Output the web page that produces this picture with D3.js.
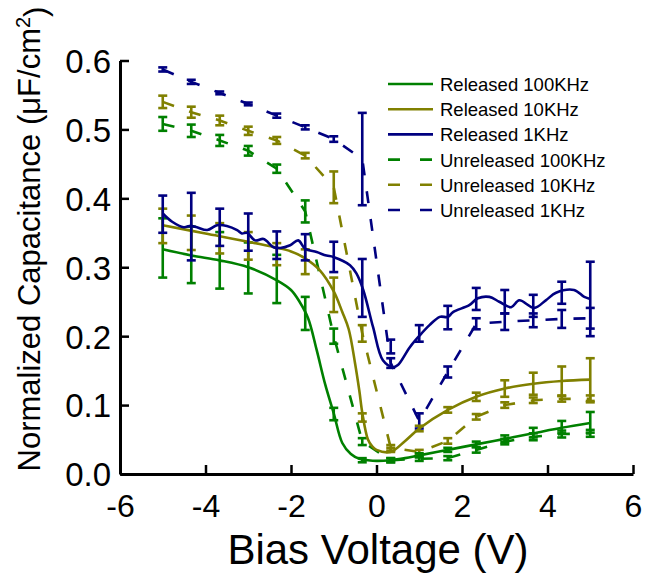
<!DOCTYPE html>
<html>
<head>
<meta charset="utf-8">
<script src="https://cdn.jsdelivr.net/npm/d3@7"></script>
<style>
  body { margin: 0; background: #fff; }
  svg text { font-family: "Liberation Sans", Arial, sans-serif; fill: #000; }
</style>
</head>
<body>
<svg id="chart" width="646" height="573"></svg>
<script>
// error bar positions (V)
var biasPts = [-5, -4.333, -3.667, -3, -2.333, -1.667, -1, -0.333, 0.333, 1, 1.667, 2.333, 3, 3.667, 4.333, 5];

// released: measured means + errors
var rel100Mean = [0.328, 0.318, 0.310, 0.299, 0.283, 0.233, 0.087, 0.020, 0.020, 0.027, 0.035, 0.043, 0.051, 0.060, 0.068, 0.075];
var rel100Err  = [0.043, 0.041, 0.041, 0.037, 0.035, 0.024, 0.009, 0.003, 0.003, 0.003, 0.003, 0.004, 0.005, 0.007, 0.009, 0.015];
var rel10Mean  = [0.360, 0.350, 0.342, 0.331, 0.319, 0.308, 0.260, 0.082, 0.035, 0.066, 0.093, 0.112, 0.124, 0.131, 0.135, 0.137];
var rel10Err   = [0.025, 0.025, 0.022, 0.020, 0.016, 0.018, 0.025, 0.006, 0.003, 0.004, 0.004, 0.006, 0.012, 0.016, 0.021, 0.031];
var rel1Mean   = [0.377, 0.359, 0.358, 0.351, 0.332, 0.329, 0.315, 0.270, 0.185, 0.204, 0.227, 0.254, 0.250, 0.244, 0.263, 0.254];
var rel1Err    = [0.027, 0.049, 0.027, 0.027, 0.020, 0.019, 0.022, 0.042, 0.010, 0.012, 0.017, 0.016, 0.017, 0.016, 0.016, 0.054];

// unreleased: measured means + errors
var unr100Mean = [0.508, 0.498, 0.484, 0.469, 0.443, 0.381, 0.200, 0.047, 0.020, 0.022, 0.023, 0.035, 0.047, 0.054, 0.058, 0.059];
var unr100Err  = [0.010, 0.009, 0.008, 0.007, 0.006, 0.016, 0.011, 0.005, 0.003, 0.003, 0.003, 0.004, 0.004, 0.005, 0.005, 0.005];
var unr10Mean  = [0.540, 0.525, 0.513, 0.498, 0.484, 0.462, 0.416, 0.204, 0.038, 0.032, 0.048, 0.083, 0.100, 0.107, 0.109, 0.109];
var unr10Err   = [0.009, 0.008, 0.007, 0.006, 0.005, 0.004, 0.023, 0.012, 0.004, 0.003, 0.004, 0.004, 0.004, 0.004, 0.004, 0.005];
var unr1Mean   = [0.587, 0.569, 0.553, 0.537, 0.520, 0.503, 0.486, 0.457, 0.161, 0.077, 0.148, 0.218, 0.221, 0.223, 0.225, 0.226];
var unr1Err    = [0.003, 0.003, 0.002, 0.002, 0.003, 0.003, 0.004, 0.067, 0.007, 0.011, 0.008, 0.008, 0.012, 0.010, 0.013, 0.015];

// released fit curves
var rel100CurveV = [-5, -4.33, -3.67, -3, -2.33, -2, -1.8, -1.6, -1.4, -1.2, -1.0, -0.8, -0.6, -0.4, -0.2, 0, 0.33, 0.67, 1, 1.67, 2.33, 3, 3.67, 4.33, 5];
var rel100CurveC = [0.326, 0.317, 0.310, 0.300, 0.281, 0.267, 0.250, 0.226, 0.180, 0.130, 0.088, 0.045, 0.029, 0.022, 0.020, 0.019, 0.020, 0.023, 0.027, 0.035, 0.043, 0.051, 0.059, 0.067, 0.074];
var rel10CurveV  = [-5, -4, -3, -2, -1.67, -1.33, -1.0, -0.8, -0.65, -0.5, -0.4, -0.33, -0.2, -0.1, 0, 0.33, 0.67, 1, 1.67, 2.33, 3, 3.67, 4.33, 5];
var rel10CurveC  = [0.361, 0.349, 0.337, 0.323, 0.313, 0.296, 0.265, 0.235, 0.210, 0.160, 0.120, 0.088, 0.050, 0.040, 0.035, 0.032, 0.048, 0.066, 0.093, 0.112, 0.124, 0.131, 0.135, 0.137];
var rel1CurveV   = [-5, -4.78, -4.51, -4.35, -4.2, -3.96, -3.73, -3.5, -3.26, -3.15, -3.03, -2.84, -2.64, -2.41, -2.25, -2.02, -1.83, -1.67, -1.4, -1.17, -1.01, -0.62, -0.47, -0.31, -0.08, 0.15, 0.39, 0.5, 0.78, 1.01, 1.24, 1.48, 1.67, 1.79, 2.17, 2.37, 2.64, 2.87, 3.15, 3.34, 3.69, 3.96, 4.2, 4.62, 4.86, 5];
var rel1CurveC   = [0.378, 0.366, 0.358, 0.360, 0.358, 0.354, 0.361, 0.360, 0.354, 0.349, 0.350, 0.339, 0.341, 0.329, 0.328, 0.332, 0.339, 0.327, 0.322, 0.317, 0.315, 0.303, 0.291, 0.267, 0.213, 0.165, 0.155, 0.158, 0.184, 0.201, 0.216, 0.228, 0.228, 0.235, 0.245, 0.255, 0.257, 0.250, 0.242, 0.252, 0.241, 0.252, 0.263, 0.267, 0.257, 0.254];

var legendNames = ["Released 100KHz", "Released 10KHz", "Released 1KHz", "Unreleased 100KHz", "Unreleased 10KHz", "Unreleased 1KHz"];

var GREEN = "#008000", OLIVE = "#808000", NAVY = "#000080";
var DASH = "12,16";

var svg = d3.select("#chart");
var x = d3.scaleLinear().domain([-6, 6]).range([120, 633]);
var y = d3.scaleLinear().domain([0, 0.6]).range([474, 60.5]);

var plotG = svg.append("g");

function zipPts(vs, cs) { return vs.map(function(v, i) { return [v, cs[i]]; }); }

function drawErrBars(means, errs, color) {
  var g = plotG.append("g").attr("stroke", color).attr("stroke-width", 2.6).attr("fill", "none");
  biasPts.forEach(function(v, i) {
    var cx = x(v), top = y(means[i] + errs[i]), bot = y(means[i] - errs[i]);
    g.append("line").attr("x1", cx).attr("x2", cx).attr("y1", top).attr("y2", bot);
    g.append("line").attr("x1", cx - 4.5).attr("x2", cx + 4.5).attr("y1", top).attr("y2", top);
    g.append("line").attr("x1", cx - 4.5).attr("x2", cx + 4.5).attr("y1", bot).attr("y2", bot);
  });
}

var lineGen = d3.line().x(function(d) { return x(d[0]); }).y(function(d) { return y(d[1]); });
var smoothGen = d3.line().x(function(d) { return x(d[0]); }).y(function(d) { return y(d[1]); }).curve(d3.curveCatmullRom.alpha(0.5));

// unreleased: dashed polylines through the means
[[unr100Mean, unr100Err, GREEN], [unr10Mean, unr10Err, OLIVE], [unr1Mean, unr1Err, NAVY]].forEach(function(s) {
  drawErrBars(s[0], s[1], s[2]);
  plotG.append("path")
    .attr("d", lineGen(zipPts(biasPts, s[0])))
    .attr("fill", "none").attr("stroke", s[2]).attr("stroke-width", 2.6)
    .attr("stroke-dasharray", DASH);
});

// released: smooth curves + bars
[[rel100Mean, rel100Err, rel100CurveV, rel100CurveC, GREEN],
 [rel10Mean, rel10Err, rel10CurveV, rel10CurveC, OLIVE],
 [rel1Mean, rel1Err, rel1CurveV, rel1CurveC, NAVY]].forEach(function(s) {
  drawErrBars(s[0], s[1], s[4]);
  plotG.append("path")
    .attr("d", smoothGen(zipPts(s[2], s[3])))
    .attr("fill", "none").attr("stroke", s[4]).attr("stroke-width", 2.6);
});

// axes
var xAxisG = svg.append("g").attr("transform", "translate(0,474)");
xAxisG.call(d3.axisBottom(x).tickValues([-5, -3, -1, 1, 3, 5]).tickSize(-5).tickSizeOuter(0).tickFormat(""));
xAxisG.call(d3.axisBottom(x).tickValues([-6, -4, -2, 0, 2, 4, 6]).tickSize(-9).tickSizeOuter(0).tickPadding(0).tickFormat(d3.format("d")));
xAxisG.selectAll("path.domain").attr("stroke-width", 3);
xAxisG.selectAll(".tick line").attr("stroke-width", 2.5);
xAxisG.selectAll(".tick text")
  .attr("y", 43).attr("dy", null)
  .style("font-size", "32px")
  .text(function(d) { return d < 0 ? "-" + Math.abs(d) : d; });

var yAxisG = svg.append("g").attr("transform", "translate(120,0)");
yAxisG.call(d3.axisLeft(y).tickValues(d3.range(0.05, 0.6, 0.1)).tickSize(-5).tickSizeOuter(0).tickFormat(""));
yAxisG.call(d3.axisLeft(y).tickValues([0, 0.1, 0.2, 0.3, 0.4, 0.5, 0.6]).tickSize(-9).tickSizeOuter(0).tickPadding(9).tickFormat(d3.format(".1f")));
yAxisG.selectAll("path.domain").attr("stroke-width", 3);
yAxisG.selectAll(".tick line").attr("stroke-width", 2.5);
yAxisG.selectAll(".tick text").style("font-size", "33px").attr("dy", "0.36em");

// axis titles
svg.append("text")
  .attr("x", 378).attr("y", 564)
  .attr("text-anchor", "middle")
  .style("font-size", "42px")
  .text("Bias Voltage (V)");

var yTitle = svg.append("text")
  .attr("transform", "translate(40,239) rotate(-90)")
  .attr("text-anchor", "middle")
  .style("font-size", "31px");
yTitle.append("tspan").text("Normalized Capacitance (\u03bcF/cm");
yTitle.append("tspan").attr("dy", "-0.5em").style("font-size", "20px").text("2");
yTitle.append("tspan").attr("dy", "0.5em").text(")");

// legend
var legendColors = [GREEN, OLIVE, NAVY, GREEN, OLIVE, NAVY];
var legG = svg.append("g");
legendNames.forEach(function(name, i) {
  var ly = 84 + i * 25.2;
  legG.append("line")
    .attr("x1", 388).attr("x2", 433).attr("y1", ly).attr("y2", ly)
    .attr("stroke", legendColors[i]).attr("stroke-width", 2.6)
    .attr("stroke-dasharray", i < 3 ? null : "12,20");
  legG.append("text")
    .attr("x", 440).attr("y", ly + 7)
    .style("font-size", "18.5px")
    .text(name);
});
</script>
</body>
</html>
